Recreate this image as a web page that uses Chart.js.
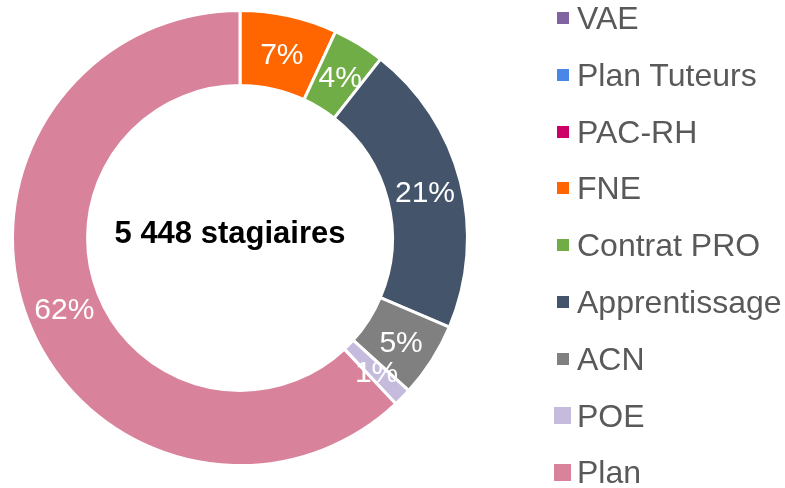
<!DOCTYPE html>
<html>
<head>
<meta charset="utf-8">
<script src="https://cdn.jsdelivr.net/npm/chart.js@4.4.0/dist/chart.umd.min.js"></script>
<style>
  html, body { margin: 0; padding: 0; background: #fff; }
  #wrap { position: relative; width: 785px; height: 488px; }
  #chart { position: absolute; left: 0; top: 0; }
  #legend { position: absolute; left: 0; top: 0; width: 785px; height: 488px; pointer-events: none; }
  .item { position: absolute; left: 577px; font-family: "Liberation Sans", Arial, sans-serif; font-size: 32px; color: #595959; line-height: 36px; white-space: nowrap; }
  .box { position: absolute; }
</style>
</head>
<body>
<div id="wrap">
  <canvas id="chart" width="785" height="488"></canvas>
  <div id="legend"></div>
</div>
<script>
// categories, legend order
var labels = ['VAE', 'Plan Tuteurs', 'PAC-RH', 'FNE', 'Contrat PRO', 'Apprentissage', 'ACN', 'POE', 'Plan'];
// share of stagiaires (%)
var values = [0, 0, 0, 6.9, 3.7, 20.8, 5.3, 1.3, 62.0];
var colors = ['#8064a2', '#4a86e8', '#cc0066', '#ff6600', '#70ad47', '#44546a', '#808080', '#c5bbdd', '#d9829b'];
var centerText = '5 448 stagiaires';

// legend (html), built from the arrays
var legend = document.getElementById('legend');
for (var i = 0; i < labels.length; i++) {
    var cy = 18 + i * 56.8;
    var big = (i >= 7);
    var s = big ? 17 : 12;
    var box = document.createElement('div');
    box.className = 'box';
    box.style.width = s + 'px';
    box.style.height = s + 'px';
    box.style.left = (big ? 554 : 557) + 'px';
    box.style.top = (cy - s / 2) + 'px';
    box.style.background = colors[i];
    legend.appendChild(box);
    var t = document.createElement('div');
    t.className = 'item';
    t.style.top = (cy - 18) + 'px';
    t.textContent = labels[i];
    legend.appendChild(t);
}

// percent labels on slices + center text
var sliceLabels = {
    id: 'sliceLabels',
    afterDatasetsDraw: function(chart) {
        var ctx = chart.ctx;
        var meta = chart.getDatasetMeta(0);
        ctx.save();
        ctx.textAlign = 'center';
        ctx.textBaseline = 'middle';
        ctx.fillStyle = '#ffffff';
        ctx.font = '30px "Liberation Sans", Arial, sans-serif';
        meta.data.forEach(function(arc, i) {
            var v = values[i];
            if (!v) return;
            var p = arc.tooltipPosition();
            ctx.fillText(Math.round(v) + '%', p.x + 1, p.y + 3);
        });
        var a = meta.data[0];
        ctx.fillStyle = '#000000';
        ctx.font = 'bold 31px "Liberation Sans", Arial, sans-serif';
        ctx.fillText(centerText, a.x - 10, a.y - 4);
        ctx.restore();
    }
};

var ctx = document.getElementById('chart').getContext('2d');
var myChart = new Chart(ctx, {
    type: 'doughnut',
    data: {
        labels: labels,
        datasets: [{
            data: values,
            backgroundColor: colors,
            borderColor: '#ffffff',
            borderWidth: 3
        }]
    },
    options: {
        responsive: false,
        animation: false,
        cutout: '67%',
        layout: { padding: { left: 11, top: 9, right: 316, bottom: 21 } },
        plugins: {
            legend: { display: false },
            tooltip: { enabled: false }
        }
    },
    plugins: [sliceLabels]
});
</script>
</body>
</html>
